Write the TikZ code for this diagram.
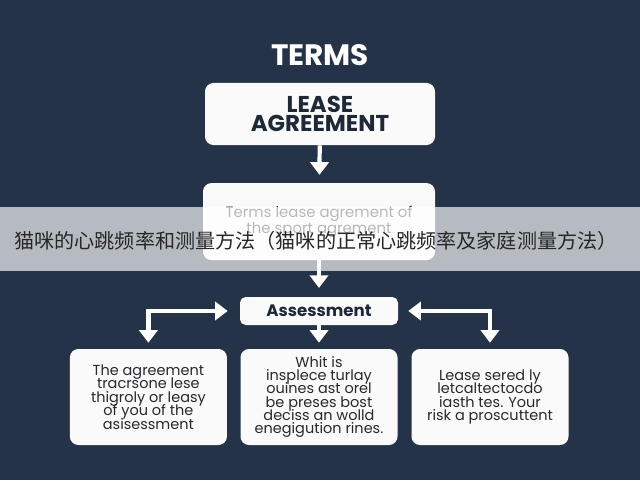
\documentclass[tikz,border=0pt]{standalone}
\usepackage{fontspec}
\setmainfont{Poppins}
\newfontfamily\cjk{Noto Sans CJK SC}
\usepackage{xcolor}
\usepackage{tikz}
\usetikzlibrary{arrows.meta,positioning}
\definecolor{darknavy}{RGB}{36, 51, 72}
\definecolor{inkblue}{RGB}{30, 40, 55}
\definecolor{softwhite}{RGB}{250, 250, 250}
\definecolor{bodygray}{RGB}{40, 40, 45}
\newcommand{\tightbody}{\fontsize{10.3}{9.5}\selectfont\setlength{\lineskiplimit}{-5pt}}
\newcommand{\tighthead}{\fontsize{16.3}{13.2}\selectfont\bfseries\setlength{\lineskiplimit}{-8pt}}

\begin{document}
\begin{tikzpicture}[
    >={Triangle[width=13pt,length=9pt]},
    card/.style={fill=softwhite, rounded corners=6pt, inner sep=2pt, align=center},
    smallcard/.style={card, minimum width=3.925cm, minimum height=2.4cm, text=bodygray, font=\tightbody},
    flow/.style={draw=white, line width=3pt, ->}
  ]
    % Background
    \fill[darknavy] (0,0) rectangle (16,12);

    % Title and main boxes
    \node[white, font=\fontsize{21}{21}\selectfont\bfseries] (title) at (8,10.62) {TERMS};
    \node[card, minimum width=5.75cm, minimum height=1.55cm, text=inkblue, font=\tighthead] (lease) at (8,9.15) {LEASE\\AGREEMENT};
    \node[card, minimum width=5.8cm, minimum height=1.925cm, text=bodygray, font=\fontsize{10.6}{10}\selectfont] (terms) at (7.975,6.46) {Terms lease agrement of\\the sport agrement};
    \node[card, minimum width=3.95cm, minimum height=0.7cm, rounded corners=4pt, text=inkblue, font=\fontsize{11.8}{11.8}\selectfont\bfseries] (assess) at (7.975,4.225) {Assessment};

    % Three boxes at the bottom
    \node[smallcard] (lbox) at (3.71,2.075) {The agreement\\tracrsone lese\\thigroly or leasy\\of you of the\\asisessment};
    \node[smallcard] (mbox) at (7.975,2.075) {Whit is\\insplece turlay\\ouines ast orel\\be preses bost\\deciss an wolld\\enegigution rines.};
    \node[smallcard] (rbox) at (12.25,2.075) {Lease sered ly\\letcaltectocdo\\iasth tes. Your\\risk a proscuttent};

    % Arrows
    \draw[flow, shorten >=0.2cm] (lease) -- (terms);
    \draw[flow, shorten >=0.22cm] (terms) -- (assess);
    \draw[flow, shorten >=0.15cm] (assess) -- (mbox);
    \draw[flow, <->, shorten <=0.3cm, shorten >=0.15cm] (assess.west) -| (lbox.north);
    \draw[flow, <->, shorten <=0.25cm, shorten >=0.15cm] (assess.east) -| (rbox.north);

    % Caption banner
    \fill[white, opacity=0.67] (0,5.22) rectangle (16,6.83);
    \node[text=black!85, font=\cjk\fontsize{14.3}{14.3}\selectfont] (caption) at (7.9,5.98) {猫咪的心跳频率和测量方法（猫咪的正常心跳频率及家庭测量方法）};
\end{tikzpicture}
\end{document}
